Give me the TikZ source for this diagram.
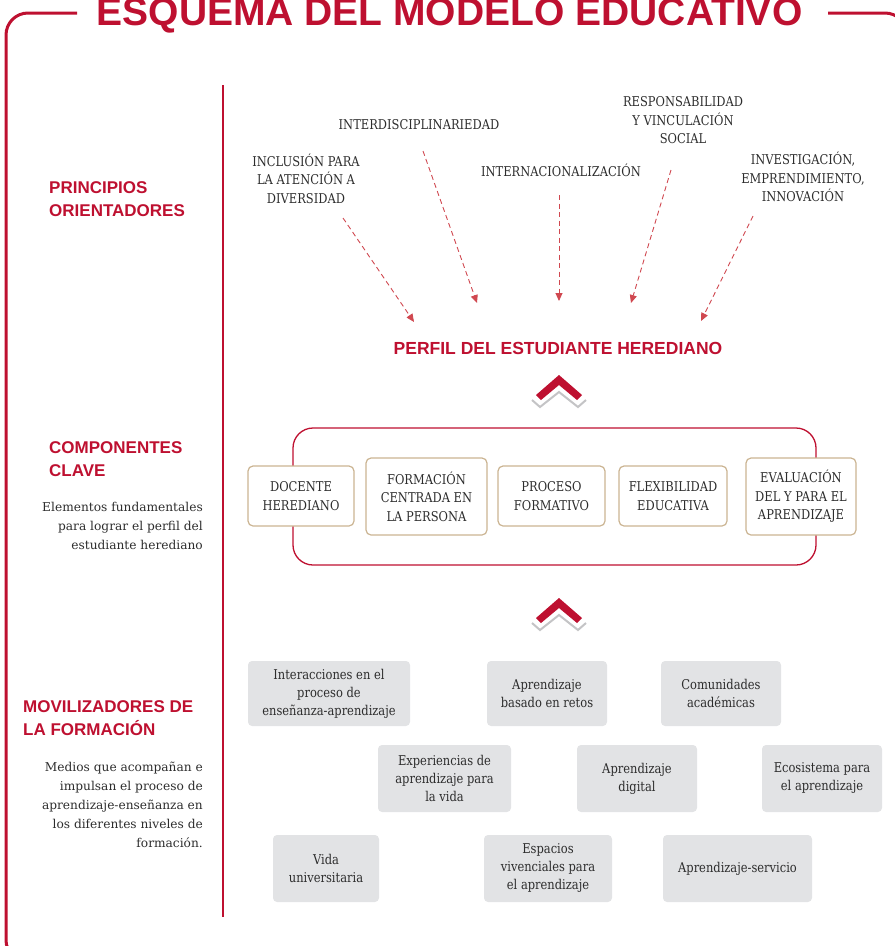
\documentclass[tikz,border=0pt]{standalone}
\usepackage{fontspec}
\setmainfont{DejaVu Serif}
\newfontfamily\headfont{Liberation Sans}
\newfontfamily\narrowfont{DejaVu Serif}[FakeStretch=0.85]
\usepackage{xcolor}
\usetikzlibrary{arrows.meta}
\definecolor{unared}{RGB}{190,16,48}
\definecolor{dashred}{RGB}{208,72,80}
\definecolor{tanline}{RGB}{203,180,146}
\definecolor{boxgray}{RGB}{226,227,229}
\definecolor{chevgray}{RGB}{196,196,198}
\definecolor{textgray}{RGB}{45,45,45}
\tikzstyle{heading} = [anchor=base west, inner sep=0pt, align=left, text=unared, font=\headfont\bfseries\fontsize{17}{23}\selectfont]
\tikzstyle{notetext} = [anchor=base east, inner sep=0pt, align=right, text=textgray, font=\fontsize{12.2}{18.8}\selectfont]
\tikzstyle{principle} = [anchor=base, inner sep=0pt, align=center, text=textgray, font=\narrowfont\fontsize{13.5}{18.3}\selectfont]
\tikzstyle{component} = [rectangle, rounded corners=5pt, draw=tanline, line width=1.2pt, fill=white, align=center, inner sep=0pt, text=textgray, font=\narrowfont\fontsize{13.5}{18.5}\selectfont]
\tikzstyle{mobilizer} = [rectangle, rounded corners=4pt, fill=boxgray, align=center, inner sep=0pt, text=textgray, font=\narrowfont\fontsize{13.5}{18}\selectfont]
\tikzstyle{dasharrow} = [dashred, line width=0.9pt, dash pattern=on 5pt off 3.5pt, -{Triangle[length=8pt,width=7pt]}]

\begin{document}
\begin{tikzpicture}[x=1pt, y=-1pt]
\useasboundingbox (0,0) rectangle (895,946);
\clip (0,0) rectangle (895,946);

  % Frame and title
  \draw[unared, line width=3pt, rounded corners=22pt] (77,13) -- (6,13) -- (6,962) -- (907,962) -- (907,13) -- (828,13);
  \node (title) [anchor=base, inner sep=0pt, text=unared, font=\headfont\bfseries\fontsize{39}{39}\selectfont] at (449.5,25) {ESQUEMA DEL MODELO EDUCATIVO};
  \draw[unared, line width=1.5pt] (223,85) -- (223,917);

  % Left column (base = last line)
  \node (principios) [heading] at (49,216) {PRINCIPIOS\\ORIENTADORES};
  \node (componentes) [heading] at (49,476) {COMPONENTES\\CLAVE};
  \node (componentesnote) [notetext] at (203,549.5) {Elementos fundamentales\\para lograr el perfil del\\estudiante herediano};
  \node (movilizadores) [heading] at (23,735) {MOVILIZADORES DE\\LA FORMACIÓN};
  \node (movilizadoresnote) [notetext] at (203,847) {Medios que acompañan e\\impulsan el proceso de\\aprendizaje-enseñanza en\\los diferentes niveles de\\formación.};

  % Principles
  \node (inclusion) [principle] at (306,203) {INCLUSIÓN PARA\\LA ATENCIÓN A\\DIVERSIDAD};
  \node (interdisc) [principle] at (419,129) {INTERDISCIPLINARIEDAD};
  \node (internac) [principle] at (561,176) {INTERNACIONALIZACIÓN};
  \node (responsab) [principle] at (683,143.5) {RESPONSABILIDAD\\Y VINCULACIÓN\\SOCIAL};
  \node (investig) [principle] at (803,201.5) {INVESTIGACIÓN,\\EMPRENDIMIENTO,\\INNOVACIÓN};

  % Perfil
  \node (perfil) [anchor=base, inner sep=0pt, text=unared, font=\headfont\bfseries\fontsize{17.5}{20}\selectfont] at (558,354) {PERFIL DEL ESTUDIANTE HEREDIANO};

  % Arrow ends
  \coordinate (inclusion-s) at (343,218);
  \coordinate (inclusion-e) at (414,322);
  \coordinate (interdisc-s) at (423,151);
  \coordinate (interdisc-e) at (477,303);
  \coordinate (internac-s) at (559,195);
  \coordinate (internac-e) at (559,301);
  \coordinate (responsab-s) at (671,170);
  \coordinate (responsab-e) at (631,303);
  \coordinate (investig-s) at (753,216);
  \coordinate (investig-e) at (701,321);

  % Arrows
  \draw [dasharrow] (inclusion-s) -- (inclusion-e);
  \draw [dasharrow] (interdisc-s) -- (interdisc-e);
  \draw [dasharrow] (internac-s) -- (internac-e);
  \draw [dasharrow] (responsab-s) -- (responsab-e);
  \draw [dasharrow] (investig-s) -- (investig-e);

  % Chevrons
  \foreach \cy in {375,598} {
    \draw[chevgray, line width=2pt, line join=miter] (532,\cy+25) -- (540,\cy+32) -- (559,\cy+17) -- (578,\cy+32) -- (586,\cy+25);
    \fill[unared] (559,\cy) -- (582,\cy+20) -- (577,\cy+25) -- (559,\cy+10) -- (541,\cy+25) -- (536,\cy+20) -- cycle;
  }

  % Key components
  \draw[unared, line width=1.3pt, rounded corners=20pt] (293,428) rectangle (816,565);
  \node (docente) [component, minimum width=106pt, minimum height=60pt] at (301,496) {DOCENTE\\HEREDIANO};
  \node (formacion) [component, minimum width=121pt, minimum height=77pt] at (426.5,496.5) {FORMACIÓN\\CENTRADA EN\\LA PERSONA};
  \node (proceso) [component, minimum width=107pt, minimum height=60pt] at (551.5,496) {PROCESO\\FORMATIVO};
  \node (flexibilidad) [component, minimum width=108pt, minimum height=60pt] at (673,496) {FLEXIBILIDAD\\EDUCATIVA};
  \node (evaluacion) [component, minimum width=110pt, minimum height=77pt] at (801,496.5) {EVALUACIÓN\\DEL Y PARA EL\\APRENDIZAJE};

  % Mobilizers
  \node (interacciones) [mobilizer, minimum width=162pt, minimum height=65pt] at (329,693.5) {Interacciones en el\\proceso de\\enseñanza-aprendizaje};
  \node (retos) [mobilizer, minimum width=120pt, minimum height=65pt] at (547,693.5) {Aprendizaje\\basado en retos};
  \node (comunidades) [mobilizer, minimum width=120pt, minimum height=65pt] at (721,693.5) {Comunidades\\académicas};
  \node (experiencias) [mobilizer, minimum width=133pt, minimum height=67pt] at (444.5,778.5) {Experiencias de\\aprendizaje para\\la vida};
  \node (digital) [mobilizer, minimum width=120pt, minimum height=67pt] at (637,778.5) {Aprendizaje\\digital};
  \node (ecosistema) [mobilizer, minimum width=120pt, minimum height=67pt] at (822,778.5) {Ecosistema para\\el aprendizaje};
  \node (vida) [mobilizer, minimum width=106pt, minimum height=67pt] at (326,868.5) {Vida\\universitaria};
  \node (espacios) [mobilizer, minimum width=128pt, minimum height=67pt] at (548,868.5) {Espacios\\vivenciales para\\el aprendizaje};
  \node (servicio) [mobilizer, minimum width=149pt, minimum height=67pt] at (737.5,868.5) {Aprendizaje-servicio};

\end{tikzpicture}
\end{document}
